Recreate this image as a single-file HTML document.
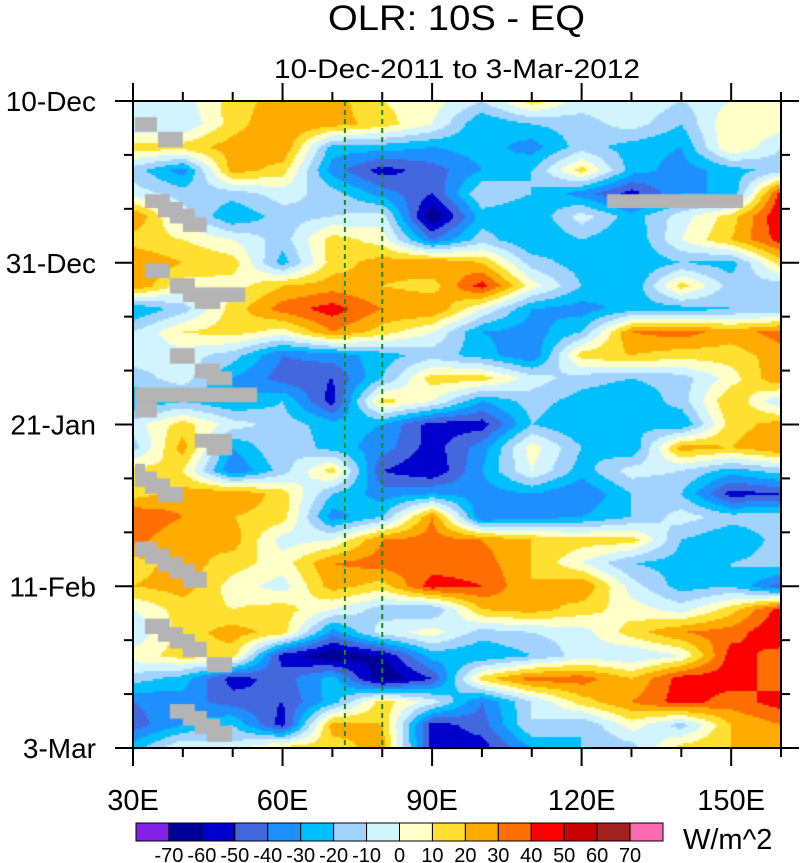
<!DOCTYPE html>
<html><head><meta charset="utf-8"><style>
body{margin:0;background:#fff;}
#wrap{position:relative;width:800px;height:863px;overflow:hidden;font-family:"Liberation Sans",sans-serif;}
canvas{position:absolute;left:0;top:0;}
svg{position:absolute;left:0;top:0;}
</style></head><body>
<div id="wrap">
<canvas id="cv" width="800" height="863"></canvas>
<svg id="sv" width="800" height="863"></svg>
</div>
<script>
// longitude grid (deg E) and day offsets from 10-Dec-2011
const lons = [30,40,50,60,70,80,90,100,110,120,130,140,150,160];
const days = [0,3,6,9,12,15,18,21,24,27,30,33,36,39,42,45,48,51,54,57,60,63,66,69,72,75,78,81,84];
// OLR anomaly (W/m^2), one row per day
const olr = [
[-5,-5,15,25,25,10,5,-10,15,-5,0,-10,0,10],
[-10,-10,15,30,25,15,0,-30,-20,-15,-5,-20,10,5],
[15,15,25,30,-25,-25,-30,-25,-35,-15,-25,-30,10,-10],
[-15,-35,25,15,-35,-55,-45,-30,-20,15,-25,-35,-25,-15],
[-5,-15,-15,-5,-15,-35,-50,-10,-20,-35,-55,-30,-30,45],
[30,-5,-30,-15,-10,-5,-70,-25,-30,-5,-25,-5,15,50],
[15,10,0,-15,15,5,-40,-15,-30,-20,-30,0,20,45],
[30,20,15,-25,15,25,30,20,-15,-25,-30,-20,-25,15],
[30,5,5,20,25,20,15,45,5,-20,-30,15,-15,-15],
[-30,-15,15,35,45,30,30,0,-30,-35,-25,-25,-20,-20],
[-10,10,15,5,30,15,0,-30,-35,-20,30,35,25,35],
[-5,-5,-15,-40,-35,-25,-15,-25,-40,15,20,15,15,25],
[-15,-5,-30,-45,-50,-20,15,15,-5,-15,-20,-15,5,30],
[-30,-20,-30,-20,-55,15,0,-30,-15,-25,-30,-15,20,-10],
[-5,15,-5,-15,-25,-30,-55,-55,-20,-30,-20,-30,15,25],
[-15,25,-30,-10,-25,-35,-55,-35,5,-20,-30,25,20,30],
[15,10,-40,-15,15,-50,-60,-30,0,-25,-5,-10,-25,-15],
[15,25,30,15,-20,-35,-30,-35,-30,-40,-20,-20,-55,-50],
[40,30,20,15,-35,-20,30,-40,-35,-30,-20,-5,-15,-15],
[35,20,25,-5,0,30,35,30,20,15,15,-20,-30,-15],
[15,25,15,5,30,35,35,35,20,0,-20,-25,-20,-15],
[20,25,5,-5,25,15,45,40,20,30,-5,-25,-20,-45],
[0,15,10,15,0,-15,-20,20,25,15,5,-5,15,45],
[-10,15,25,15,-35,-5,5,-15,-10,-5,15,30,35,50],
[5,15,15,-55,-70,-60,-25,-30,-20,-5,-10,0,45,35],
[-15,-25,-55,-45,-25,-70,-50,15,35,35,20,45,45,35],
[-40,-35,-45,-50,-25,15,-5,-40,-10,15,30,45,35,45],
[-45,-30,-20,-55,25,20,-55,-45,-10,-20,5,-15,20,30],
[-25,0,-5,15,15,25,-55,-55,-30,-20,-15,15,20,30]
];
// contour levels and fill colours
const levels = [-70,-60,-50,-40,-30,-20,-10,0,10,20,30,40,50,60,70];
const levelLabels = ["-70","-60","-50","-40","-30","-20","-10","0","10","20","30","40","50","60","70"];
const fills = ["#8221e8","#000099","#0000cd","#4367dd","#1e8fff","#00bfff","#a2d3ff","#d2f4ff","#ffffc8","#ffe030","#ffab00","#ff6e00","#ff0000","#c80000","#a22222","#ff69b4"];
// missing-data blocks [lon0, lon1, day0, day1]
const missing = [[30.4,34.8,2.1,4],[35,40,4,6],[32.4,37.4,12.1,13.9],[35,40,13.1,15.1],[37.4,42.4,14,15.9],[40,44.8,15.1,17],[32.4,37.4,21.1,23],[37.4,42.4,23,25],[40,52.5,24.2,26.1],[42.4,47.5,25.2,27],[37.4,42.4,32.1,34.1],[42.4,47.5,34.1,36],[44.8,49.9,35.1,36.9],[30.4,54.9,37.2,39.1],[30.4,34.8,39.1,41.1],[42.4,49.9,43.2,45],[44.8,49.9,44.2,46],[30.4,32.4,47.1,49],[30.4,34.8,48.1,50.1],[32.4,37.4,49,51],[35,40,50.1,52.1],[30.4,34.8,57.2,59.2],[32.4,37.4,58.1,60.1],[35,40,59.2,61.1],[37.4,42.4,60.1,62],[40,44.8,61.1,63.2],[32.4,37.4,67.2,69.2],[35,40,68.3,70.2],[37.4,42.4,69.2,71.1],[40,44.8,70.2,72.2],[44.8,49.9,72.2,74.2],[37.4,42.4,78.3,80.2],[40,44.8,79.2,81.1],[42.4,47.5,80.2,82.2],[44.8,49.9,81.1,83.2],[125.1,152.4,12.1,13.9]];
const refLons = [72.5,80];
const xTickVals = [30,60,90,120,150];
const xTickLabels = ["30E","60E","90E","120E","150E"];
const yTickVals = [0,21,42,63,84];
const yTickLabels = ["10-Dec","31-Dec","21-Jan","11-Feb","3-Mar"];

const X0=133,X1=781,Y0=101,Y1=748,LON0=30,LON1=160,D0=0,D1=84;
const xs = l => X0+(l-LON0)/(LON1-LON0)*(X1-X0);
const ys = d => Y0+(d-D0)/(D1-D0)*(Y1-Y0);
const lonOf = x => LON0+(x-X0)/(X1-X0)*(LON1-LON0);
const dayOf = y => D0+(y-Y0)/(Y1-Y0)*(D1-D0);
function colorOf(v){let i=0;while(i<levels.length&&v>=levels[i])i++;return fills[i];}
function idx(arr,v){let i=0;while(i<arr.length-2&&v>arr[i+1])i++;return i;}
function val(l,d){
  const i=idx(lons,l), j=idx(days,d);
  const tx=Math.max(0,Math.min(1,(l-lons[i])/(lons[i+1]-lons[i])));
  const ty=Math.max(0,Math.min(1,(d-days[j])/(days[j+1]-days[j])));
  const a=olr[j][i],b=olr[j][i+1],c=olr[j+1][i],e=olr[j+1][i+1];
  return (a*(1-tx)+b*tx)*(1-ty)+(c*(1-tx)+e*tx)*ty;
}
const ctx=document.getElementById('cv').getContext('2d');
const S=2;
for(let y=Y0;y<Y1;y+=S){for(let x=X0;x<X1;x+=S){
  ctx.fillStyle=colorOf(val(lonOf(x+S/2),dayOf(y+S/2)));ctx.fillRect(x,y,S,S);}}
ctx.fillStyle="#b4b4b4";
missing.forEach(m=>{ctx.fillRect(xs(m[0]),ys(m[2]),xs(m[1])-xs(m[0]),ys(m[3])-ys(m[2]));});

const NS="http://www.w3.org/2000/svg";
const sv=document.getElementById('sv');
function mk(tag,attrs,name,parent){const e=document.createElementNS(NS,tag);for(const k in attrs)e.setAttribute(k,attrs[k]);
  
  
  (parent||sv).appendChild(e);return e;}
refLons.forEach(l=>{mk('line',{x1:xs(l),x2:xs(l),y1:Y0,y2:Y1,stroke:'#1a8a1a','stroke-width':2,'stroke-dasharray':'5,4'},'reference-line');});
mk('rect',{x:X0,y:Y0,width:X1-X0,height:Y1-Y0,fill:'none',stroke:'#000','stroke-width':2},'plot-frame');
// ticks
for(let l=30;l<=160;l+=10){const maj=(l%30===0);const L=maj?18:9;const x=xs(l);
  mk('line',{x1:x,x2:x,y1:Y1,y2:Y1+L,stroke:'#000','stroke-width':2},'x-tick');
  mk('line',{x1:x,x2:x,y1:Y0,y2:Y0-L,stroke:'#000','stroke-width':2},'x-tick-top');}
for(let d=0;d<=84;d+=7){const maj=(d%21===0);const L=maj?18:9;const y=ys(d);
  mk('line',{x1:X0-L,x2:X0,y1:y,y2:y,stroke:'#000','stroke-width':2},'y-tick');
  mk('line',{x1:X1,x2:X1+L,y1:y,y2:y,stroke:'#000','stroke-width':2},'y-tick-right');}
xTickVals.forEach((v,i)=>{const t=mk('text',{x:xs(v),y:810,'text-anchor':'middle','font-size':29,fill:'#000'},'x-tick-label');t.textContent=xTickLabels[i];});
yTickVals.forEach((v,i)=>{const t=mk('text',{x:96,y:ys(v)+10,'text-anchor':'end','font-size':28,fill:'#000'},'y-tick-label');t.textContent=yTickLabels[i];});
let t=mk('text',{x:328,y:30,'font-size':35,fill:'#000',textLength:257,lengthAdjust:'spacingAndGlyphs'},'chart-title');t.textContent="OLR: 10S - EQ";
t=mk('text',{x:274,y:78,'font-size':27,fill:'#000',textLength:366,lengthAdjust:'spacingAndGlyphs'},'chart-subtitle');t.textContent="10-Dec-2011 to 3-Mar-2012";
// colorbar
const CB0=136,CB1=663,CBY=823,CBH=18,bw=(CB1-CB0)/fills.length;
fills.forEach((c,i)=>{mk('rect',{x:CB0+i*bw,y:CBY,width:bw,height:CBH,fill:c,stroke:'#000','stroke-width':1},'colorbar-box');});
levelLabels.forEach((s,i)=>{const e=mk('text',{x:CB0+(i+1)*bw,y:862,'text-anchor':'middle','font-size':20,fill:'#000'},'colorbar-label');e.textContent=s;});
t=mk('text',{x:683,y:849,'font-size':29,fill:'#000'},'colorbar-units');t.textContent="W/m^2";
</script>
</body></html>
